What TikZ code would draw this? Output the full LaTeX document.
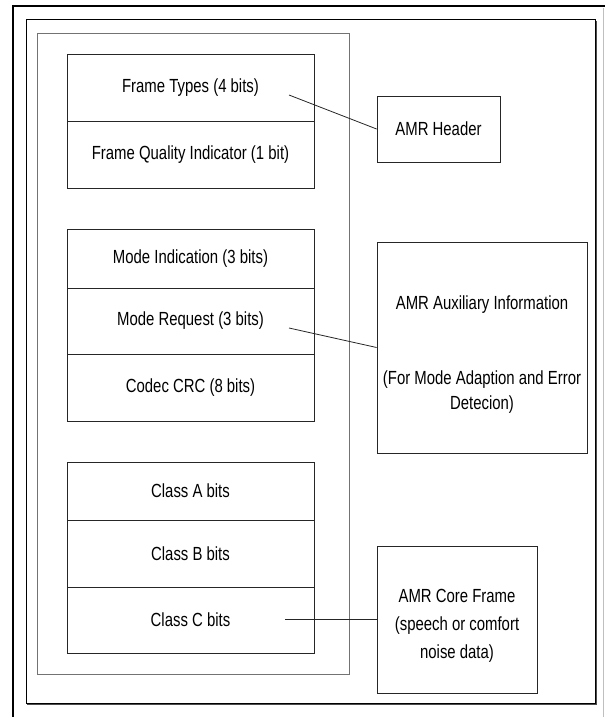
\documentclass[tikz,border=0pt]{standalone}
\usepackage{fontspec}
\setmainfont{Liberation Sans}[FakeStretch=0.785]
\begin{document}
\begin{tikzpicture}[x=1pt,y=-1pt,
  cell/.style={draw=black!85, line width=0.8pt, rectangle, inner sep=0pt, font=\fontsize{19}{23}\selectfont, align=center},
  link/.style={draw=black!85, line width=0.8pt}]
\useasboundingbox (0,0) rectangle (605,717);
% outer frames
\draw[black, line width=2pt] (13,6) -- (605,6);
\draw[black, line width=1.4pt] (13,5) -- (13,717);
\draw[black!25, line width=1pt] (603,8) -- (603,717);
\draw[black, line width=1pt] (26,20) rectangle (595,703);
\draw[black!70, line width=1pt] (596,21) -- (596,704) -- (27,704);
\draw[black!55, line width=1pt] (37,34) rectangle (349,674);
% left column cells
\node[cell, minimum width=247pt, minimum height=67pt] (ft)  at (190.5,87.5)  {Frame Types (4 bits)};
\node[cell, minimum width=247pt, minimum height=67pt] (fqi) at (190.5,154.5) {Frame Quality Indicator (1 bit)};
\node[cell, minimum width=247pt, minimum height=59pt] (mi)  at (190.5,258.5) {Mode Indication (3 bits)};
\node[cell, minimum width=247pt, minimum height=66pt] (mr)  at (190.5,321)   {Mode Request (3 bits)};
\node[cell, minimum width=247pt, minimum height=67pt] (crc) at (190.5,387.5) {Codec CRC (8 bits)};
\node[cell, minimum width=247pt, minimum height=58pt] (ca)  at (190.5,491)   {Class A bits};
\node[cell, minimum width=247pt, minimum height=67pt] (cb)  at (190.5,553.5) {Class B bits};
\node[cell, minimum width=247pt, minimum height=66pt] (cc)  at (190.5,620)   {Class C bits};
% right boxes
\node[cell, minimum width=123pt, minimum height=66pt] (hdr) at (438.5,129) {AMR Header};
\node[cell, minimum width=210pt, minimum height=211pt, font=\fontsize{19}{25}\selectfont] (aux) at (482,347.5)
  {\rule{0pt}{28pt}AMR Auxiliary Information\\[50pt](For Mode Adaption and Error\\Detecion)};
\node[cell, minimum width=160pt, minimum height=147pt, font=\fontsize{19}{28}\selectfont] (core) at (457,619.5)
  {\rule{0pt}{26pt}AMR Core Frame\\(speech or comfort\\noise data)};
% connectors
\coordinate (s1) at (289,95);
\coordinate (s2) at (289,328);
\coordinate (s3) at (285,619.5);
\draw[link] (s1) -- (hdr.west);
\draw[link] (s2) -- (aux.west);
\draw[link] (s3) -- (core.west);
\end{tikzpicture}
\end{document}
